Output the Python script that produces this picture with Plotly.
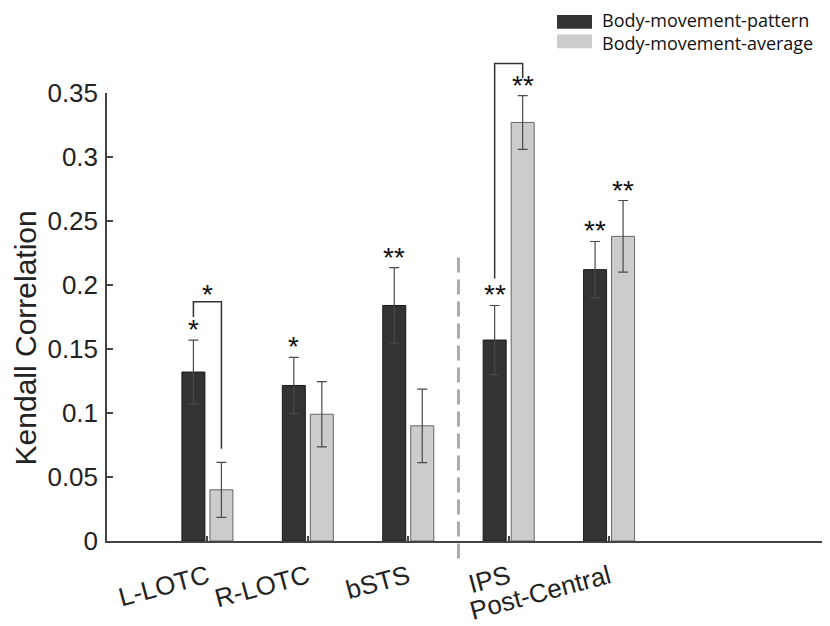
import plotly.graph_objects as go

# ---------------- data ----------------
regions = ["L-LOTC", "R-LOTC", "bSTS", "IPS", "Post-Central"]
pattern_mean = [0.132, 0.1215, 0.184, 0.157, 0.212]
pattern_err = [0.025, 0.022, 0.0295, 0.027, 0.022]
average_mean = [0.040, 0.099, 0.090, 0.327, 0.238]
average_err = [0.0215, 0.0255, 0.0287, 0.021, 0.028]
pattern_sig = ["*", "*", "**", "**", "**"]
average_sig = ["", "", "", "**", "**"]
# brackets: (region index, left-leg start, top, right-leg end, label)
brackets = [(0, 0.175, 0.187, 0.072, "*"), (3, 0.205, 0.373, 0.3615, "**")]
y_ticks = [0, 0.05, 0.1, 0.15, 0.2, 0.25, 0.3, 0.35]
y_tick_text = ["0", "0.05", "0.1", "0.15", "0.2", "0.25", "0.3", "0.35"]
series_names = ["Body-movement-pattern", "Body-movement-average"]
series_colors = ["#333333", "#cccccc"]

# ---------------- geometry / styling ----------------
# the page body adds an 8px offset, so the figure is 8px smaller than the window
BODY = 8
PLOT_L, PLOT_R, PLOT_T, PLOT_B = 107, 830, 93, 553   # plot area in window pixels
def px_x(p):
    return (p - PLOT_L) / (PLOT_R - PLOT_L)
def px_y(p):
    return (PLOT_B - p) / (PLOT_B - PLOT_T)

X_RANGE = [0, 7.2]
Y_MAX = 0.35
BAR_W = 0.229
OFF_DARK = -0.254
OFF_LIGHT = 0.025
DIVIDER_X = 3.5
DIVIDER_TOP = 0.2215
DIVIDER_BOTTOM = -0.017
AX = "#444444"
TXT = "#222222"
FONT = "Liberation Sans, Arial, sans-serif"

xpos = list(range(1, len(regions) + 1))
dark_c = [x + OFF_DARK + BAR_W / 2 for x in xpos]
light_c = [x + OFF_LIGHT + BAR_W / 2 for x in xpos]

fig = go.Figure()
fig.add_trace(go.Bar(
    x=xpos, y=pattern_mean, name=series_names[0], width=BAR_W, offset=OFF_DARK,
    marker=dict(color=series_colors[0], line=dict(color="#1a1a1a", width=1)),
    error_y=dict(type="data", array=pattern_err, color="#4a4a4a", thickness=1.2, width=5),
    showlegend=False,
))
fig.add_trace(go.Bar(
    x=xpos, y=average_mean, name=series_names[1], width=BAR_W, offset=OFF_LIGHT,
    marker=dict(color=series_colors[1], line=dict(color="#666666", width=1)),
    error_y=dict(type="data", array=average_err, color="#4a4a4a", thickness=1.2, width=5),
    showlegend=False,
))

annotations = []
star_font = dict(family=FONT, size=28, color="#111111")
for i in range(len(regions)):
    if pattern_sig[i]:
        annotations.append(dict(x=dark_c[i], y=pattern_mean[i] + pattern_err[i], xref="x", yref="y",
                                text=pattern_sig[i], showarrow=False, yanchor="bottom",
                                yshift=-7, font=star_font))
    if average_sig[i]:
        annotations.append(dict(x=light_c[i], y=average_mean[i] + average_err[i], xref="x", yref="y",
                                text=average_sig[i], showarrow=False, yanchor="bottom",
                                yshift=-7, font=star_font))

shapes = []
for idx, y1, ytop, y2, lab in brackets:
    xl, xr = dark_c[idx], light_c[idx]
    path = "M %f,%f V %f H %f V %f" % (xl, y1 / Y_MAX, ytop / Y_MAX, xr, y2 / Y_MAX)
    shapes.append(dict(type="path", path=path, xref="x", yref="paper",
                       line=dict(color="#333333", width=1.5)))
    annotations.append(dict(x=(xl + xr) / 2, y=ytop, xref="x", yref="y", text=lab,
                            showarrow=False, yanchor="bottom", yshift=-10, font=star_font))

shapes.append(dict(type="line", xref="x", yref="paper", x0=DIVIDER_X, x1=DIVIDER_X,
                   y0=DIVIDER_TOP / Y_MAX, y1=DIVIDER_BOTTOM / Y_MAX,
                   line=dict(color="#aaaaaa", width=3, dash="15px,7px")))

# legend (drawn as boxes + text to match the compact original layout)
LEG_BOX_X = (557, 592)
LEG_ROWS = [20, 40]
LEG_TEXT_X = 600
for col, yc in zip(series_colors, LEG_ROWS):
    shapes.append(dict(type="rect", xref="paper", yref="paper",
                       x0=px_x(LEG_BOX_X[0]), x1=px_x(LEG_BOX_X[1]),
                       y0=px_y(yc + 7), y1=px_y(yc - 7),
                       fillcolor=col, line=dict(width=0)))
annotations.append(dict(text="<br>".join(series_names), x=px_x(LEG_TEXT_X),
                        y=px_y(sum(LEG_ROWS) / len(LEG_ROWS)), xref="paper", yref="paper",
                        xanchor="left", yanchor="middle", align="left", showarrow=False,
                        font=dict(family="Open Sans, sans-serif", size=18, color="#111111")))

annotations.append(dict(text="Kendall Correlation", x=px_x(25), y=px_y(345), xref="paper", yref="paper",
                        textangle=-90, showarrow=False, xanchor="center", yanchor="middle",
                        font=dict(family=FONT, size=30, color=TXT)))

fig.update_layout(
    width=830 - BODY, height=626 - BODY,
    margin=dict(l=PLOT_L - BODY, r=0, t=PLOT_T - BODY, b=626 - PLOT_B),
    paper_bgcolor="white", plot_bgcolor="white",
    barmode="overlay",
    showlegend=False,
    xaxis=dict(range=X_RANGE, tickmode="array", tickvals=xpos, ticktext=regions,
               tickangle=-15, ticks="inside", ticklen=5, tickcolor=AX, tickwidth=1.5,
               showline=True, linecolor=AX, linewidth=1.5, showgrid=False, zeroline=False,
               ticklabelstandoff=9,
               tickfont=dict(family=FONT, size=26, color=TXT)),
    yaxis=dict(range=[0, Y_MAX], tickmode="array", tickvals=y_ticks, ticktext=y_tick_text,
               ticks="inside", ticklen=6, tickcolor=AX, tickwidth=1.5,
               showline=True, linecolor=AX, linewidth=1.5, showgrid=False, zeroline=False,
               ticklabelstandoff=2,
               tickfont=dict(family=FONT, size=26, color=TXT)),
    shapes=shapes,
    annotations=annotations,
)

fig.write_html("out.html")
